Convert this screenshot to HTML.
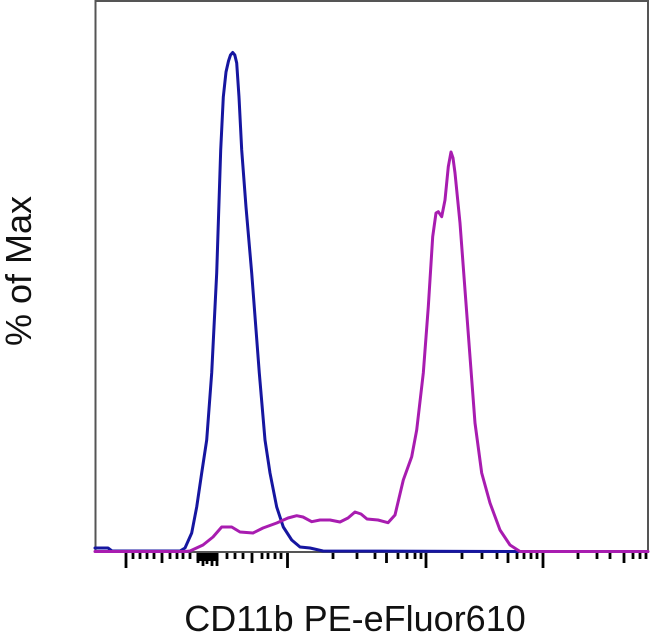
<!DOCTYPE html>
<html>
<head>
<meta charset="utf-8">
<style>
  html, body { margin:0; padding:0; background:#fff; }
  body { width:650px; height:633px; overflow:hidden; }
  svg { display:block; }
  text { font-family: "Liberation Sans", Arial, sans-serif; fill:#111; }
</style>
</head>
<body>
<svg width="650" height="633" viewBox="0 0 650 633" xmlns="http://www.w3.org/2000/svg">
  <rect x="0" y="0" width="650" height="633" fill="#fff"/>
  <!-- plot frame -->
  <rect x="95.5" y="1" width="552.5" height="551" fill="none" stroke="#555" stroke-width="2"/>

  <!-- ticks -->
  <g stroke="#000" stroke-width="2.8" fill="none">
    <!-- majors -->
    <line x1="126" y1="553" x2="126" y2="568"/>
    <line x1="287.5" y1="553" x2="287.5" y2="568"/>
    <line x1="426" y1="553" x2="426" y2="568"/>
    <line x1="543" y1="553" x2="543" y2="568"/>
    <!-- mediums -->
    <line x1="162" y1="553" x2="162" y2="563"/>
    <line x1="252" y1="553" x2="252" y2="563"/>
    <line x1="386.5" y1="553" x2="386.5" y2="563"/>
    <line x1="508" y1="553" x2="508" y2="563"/>
    <line x1="624" y1="553" x2="624" y2="563"/>
    <!-- minors -->
    <line x1="133" y1="553" x2="133" y2="559"/>
    <line x1="140" y1="553" x2="140" y2="559"/>
    <line x1="147" y1="553" x2="147" y2="559"/>
    <line x1="154" y1="553" x2="154" y2="559"/>
    <line x1="170" y1="553" x2="170" y2="559"/>
    <line x1="177" y1="553" x2="177" y2="559"/>
    <line x1="183" y1="553" x2="183" y2="559"/>
    <line x1="190" y1="553" x2="190" y2="559"/>
    <line x1="227" y1="553" x2="227" y2="559"/>
    <line x1="235" y1="553" x2="235" y2="559"/>
    <line x1="243" y1="553" x2="243" y2="559"/>
    <line x1="262" y1="553" x2="262" y2="559"/>
    <line x1="268" y1="553" x2="268" y2="559"/>
    <line x1="275" y1="553" x2="275" y2="559"/>
    <line x1="281" y1="553" x2="281" y2="559"/>
    <line x1="333" y1="553" x2="333" y2="559"/>
    <line x1="357" y1="553" x2="357" y2="559"/>
    <line x1="375" y1="553" x2="375" y2="559"/>
    <line x1="398" y1="553" x2="398" y2="559"/>
    <line x1="407" y1="553" x2="407" y2="559"/>
    <line x1="415" y1="553" x2="415" y2="559"/>
    <line x1="421" y1="553" x2="421" y2="559"/>
    <line x1="462" y1="553" x2="462" y2="559"/>
    <line x1="482" y1="553" x2="482" y2="559"/>
    <line x1="497" y1="553" x2="497" y2="559"/>
    <line x1="517" y1="553" x2="517" y2="559"/>
    <line x1="524" y1="553" x2="524" y2="559"/>
    <line x1="531" y1="553" x2="531" y2="559"/>
    <line x1="537" y1="553" x2="537" y2="559"/>
    <line x1="578" y1="553" x2="578" y2="559"/>
    <line x1="597" y1="553" x2="597" y2="559"/>
    <line x1="610" y1="553" x2="610" y2="559"/>
    <line x1="633" y1="553" x2="633" y2="559"/>
    <line x1="640" y1="553" x2="640" y2="559"/>
    <line x1="646" y1="553" x2="646" y2="559"/>
    <!-- cluster near zero -->
    <line x1="198" y1="553" x2="198" y2="563"/>
    <line x1="203" y1="553" x2="203" y2="566"/>
    <line x1="207" y1="553" x2="207" y2="564"/>
    <line x1="212" y1="553" x2="212" y2="566"/>
    <line x1="217" y1="553" x2="217" y2="566"/>
  </g>
  <rect x="196.5" y="553" width="22" height="8" fill="#000"/>

  <!-- blue histogram -->
  <polyline fill="none" stroke="#1616a0" stroke-width="3" stroke-linejoin="round" stroke-linecap="round"
    points="95,548 108,548 112,551 180,551 185,548 191.7,533 196.7,507 201.7,473 206.7,440 211.7,373 216.7,273 220.7,150 223.3,97 226,72 228.5,61 230.5,55 232.7,52.5 234.8,55 236.7,63 239,97 241.7,150 246,207 251.7,273 259.3,373 265,440 270,473 276.7,507 283.3,527 291.7,540 300,547 310,548 323,551 520,551.5"/>

  <!-- magenta histogram -->
  <polyline fill="none" stroke="#a81cb0" stroke-width="3" stroke-linejoin="round" stroke-linecap="round"
    points="95,551.5 185,551.5 190,551 203,545 213,537 221.7,527 231.7,527 240,532 253,533 263,528 276.7,523 288,518 296.7,515.7 303,517 311.7,521.7 320,520 330,520 340,522 348,518 355,512 361,514 367,519 378,520 388,522.7 395,515 403.3,480 411.7,456.7 416.7,430 423.3,373 428.3,306.7 432.7,236.7 436,213 438.3,211.7 441.7,216.7 445,200 448.3,166.7 451,152 453,158 455,173 460,223 465,290 470,356.7 475,423 481.7,473 490,503 500,530 510,545 520,551.5 648,551.5"/>

  <!-- axis labels -->
  <text x="355" y="631" font-size="36" text-anchor="middle">CD11b PE-eFluor610</text>
  <text transform="translate(31,271) rotate(-90)" font-size="36" text-anchor="middle">% of Max</text>
</svg>
</body>
</html>
